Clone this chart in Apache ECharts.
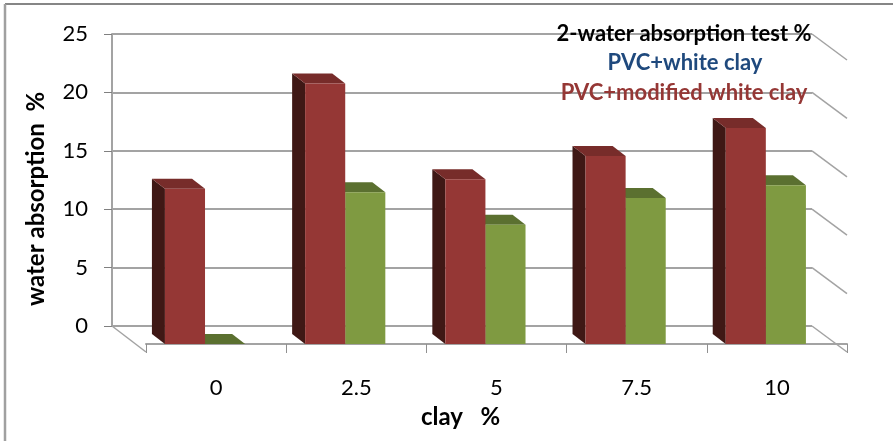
<!DOCTYPE html>
<html><head><meta charset="utf-8">
<style>html,body{margin:0;padding:0;background:#fff}#c{width:893px;height:441px}</style>
<script src="https://cdn.jsdelivr.net/npm/echarts@6/dist/echarts.min.js"></script>
</head><body><div id="c"></div>
<script>
const categories = ['0','2.5','5','7.5','10'];
const modifiedClay = [13.3,22.3,14.1,16.1,18.5];
const whiteClay = [0,13.0,10.2,12.5,13.6];
const wallTicks = [0,5,10,15,20,25];

const chart = echarts.init(document.getElementById('c'), null, {renderer:'canvas'});
const DX = 13, DY = 10, GRID = '#a3a3a3';

function bar(colors, startFrac, widthFrac){
  return function(params, api){
    const idx = api.value(0), v = api.value(1);
    const band = api.size([1,0])[0];
    const c = api.coord([idx, v]), b = api.coord([idx, 0]);
    const x0 = c[0] + startFrac*band, x1 = x0 + widthFrac*band;
    const yT = c[1], yB = b[1];
    const poly = (pts, fill) => ({type:'polygon', shape:{points:pts}, style:{fill}});
    return {type:'group', children:[
      poly([[x0-DX,yT-DY],[x0,yT],[x0,yB],[x0-DX,yB-DY]], colors[2]),
      poly([[x0-DX,yT-DY],[x1-DX,yT-DY],[x1,yT],[x0,yT]], colors[1]),
      {type:'rect', shape:{x:x0,y:yT,width:x1-x0,height:yB-yT}, style:{fill:colors[0]}}
    ]};
  };
}

chart.setOption({
  animation:false,
  backgroundColor:'#fff',
  textStyle:{fontFamily:'Lato'},
  title:[
    {text:'2-water absorption test %',left:679,top:18,textAlign:'center',textStyle:{fontFamily:'Lato',fontSize:22,fontWeight:'bold',color:'#000'}},
    {text:'PVC+white clay',left:680,top:47,textAlign:'center',textStyle:{fontFamily:'Lato',fontSize:22,fontWeight:'bold',color:'#1f497d'}},
    {text:'PVC+modified white clay',left:679,top:77,textAlign:'center',textStyle:{fontFamily:'Lato',fontSize:22,fontWeight:'bold',color:'#953735'}}
  ],
  grid:[
    {left:112,top:34,width:700,height:292},
    {left:146,top:52,width:701,height:292}
  ],
  xAxis:[
    {type:'category',gridIndex:0,data:categories,show:false},
    {type:'category',gridIndex:1,data:categories,offset:8,
     axisLine:{lineStyle:{color:GRID,width:2}},
     axisTick:{show:true,alignWithLabel:false,length:9,lineStyle:{color:'#909090',width:1}},
     axisLabel:{color:'#000',fontSize:22,margin:25,fontFamily:'Lato'},
     name:'clay   %',nameLocation:'middle',nameGap:53,
     nameTextStyle:{color:'#000',fontSize:24,fontWeight:'bold',fontFamily:'Lato',padding:[0,72,0,0]}}
  ],
  yAxis:[
    {type:'value',gridIndex:0,min:0,max:25,interval:5,
     axisLine:{show:true,lineStyle:{color:GRID,width:2}},
     axisTick:{show:true,length:8,lineStyle:{color:'#808080'}},
     axisLabel:{color:'#000',fontSize:22,margin:24,fontFamily:'Lato',padding:[2,0,0,0]},
     splitLine:{show:true,lineStyle:{color:GRID,width:2}},
     name:'water absorption  %',nameLocation:'middle',nameGap:64,nameRotate:90,
     nameTextStyle:{color:'#000',fontSize:24,fontWeight:'bold',fontFamily:'Lato',padding:[0,38,0,0]}},
    {type:'value',gridIndex:1,min:0,max:25,interval:5,show:false}
  ],
  series:[
    {type:'custom',name:'wall to floor edges',xAxisIndex:0,yAxisIndex:0,silent:true,z:1,
     data:wallTicks.map(v=>[0,v]),
     encode:{x:0,y:1},clip:false,
     renderItem(params,api){
       const v=api.value(1), p=api.coord([0,v]), r=params.coordSys.x+params.coordSys.width;
       const ch=[{type:'line',shape:{x1:r,y1:p[1],x2:r+35,y2:p[1]+26},style:{stroke:GRID,lineWidth:1.5}}];
       if(v===0) ch.push({type:'line',shape:{x1:params.coordSys.x,y1:p[1],x2:params.coordSys.x+34,y2:p[1]+26},style:{stroke:GRID,lineWidth:1.5}});
       return {type:'group',children:ch};
     }},
    {type:'custom',name:'PVC+white clay',xAxisIndex:1,yAxisIndex:1,z:3,clip:false,
     data:whiteClay.map((v,i)=>[i,v]),encode:{x:0,y:1},
     renderItem:bar(['#7f9a41','#5b7030','#4a5c27'],-0.079,0.286)},
    {type:'custom',name:'PVC+modified white clay',xAxisIndex:1,yAxisIndex:1,z:4,clip:false,
     data:modifiedClay.map((v,i)=>[i,v]),encode:{x:0,y:1},
     renderItem:bar(['#953735','#772c2a','#3f1815'],-0.365,0.286)}
  ],
  graphic:[
    {type:'line',silent:true,z:-1,shape:{x1:5,y1:4,x2:893,y2:4},style:{stroke:'#868686',lineWidth:2}},
    {type:'line',silent:true,z:-1,shape:{x1:5,y1:4,x2:5,y2:441},style:{stroke:'#a0a0a0',lineWidth:2.5}}
  ]
});
</script></body></html>
